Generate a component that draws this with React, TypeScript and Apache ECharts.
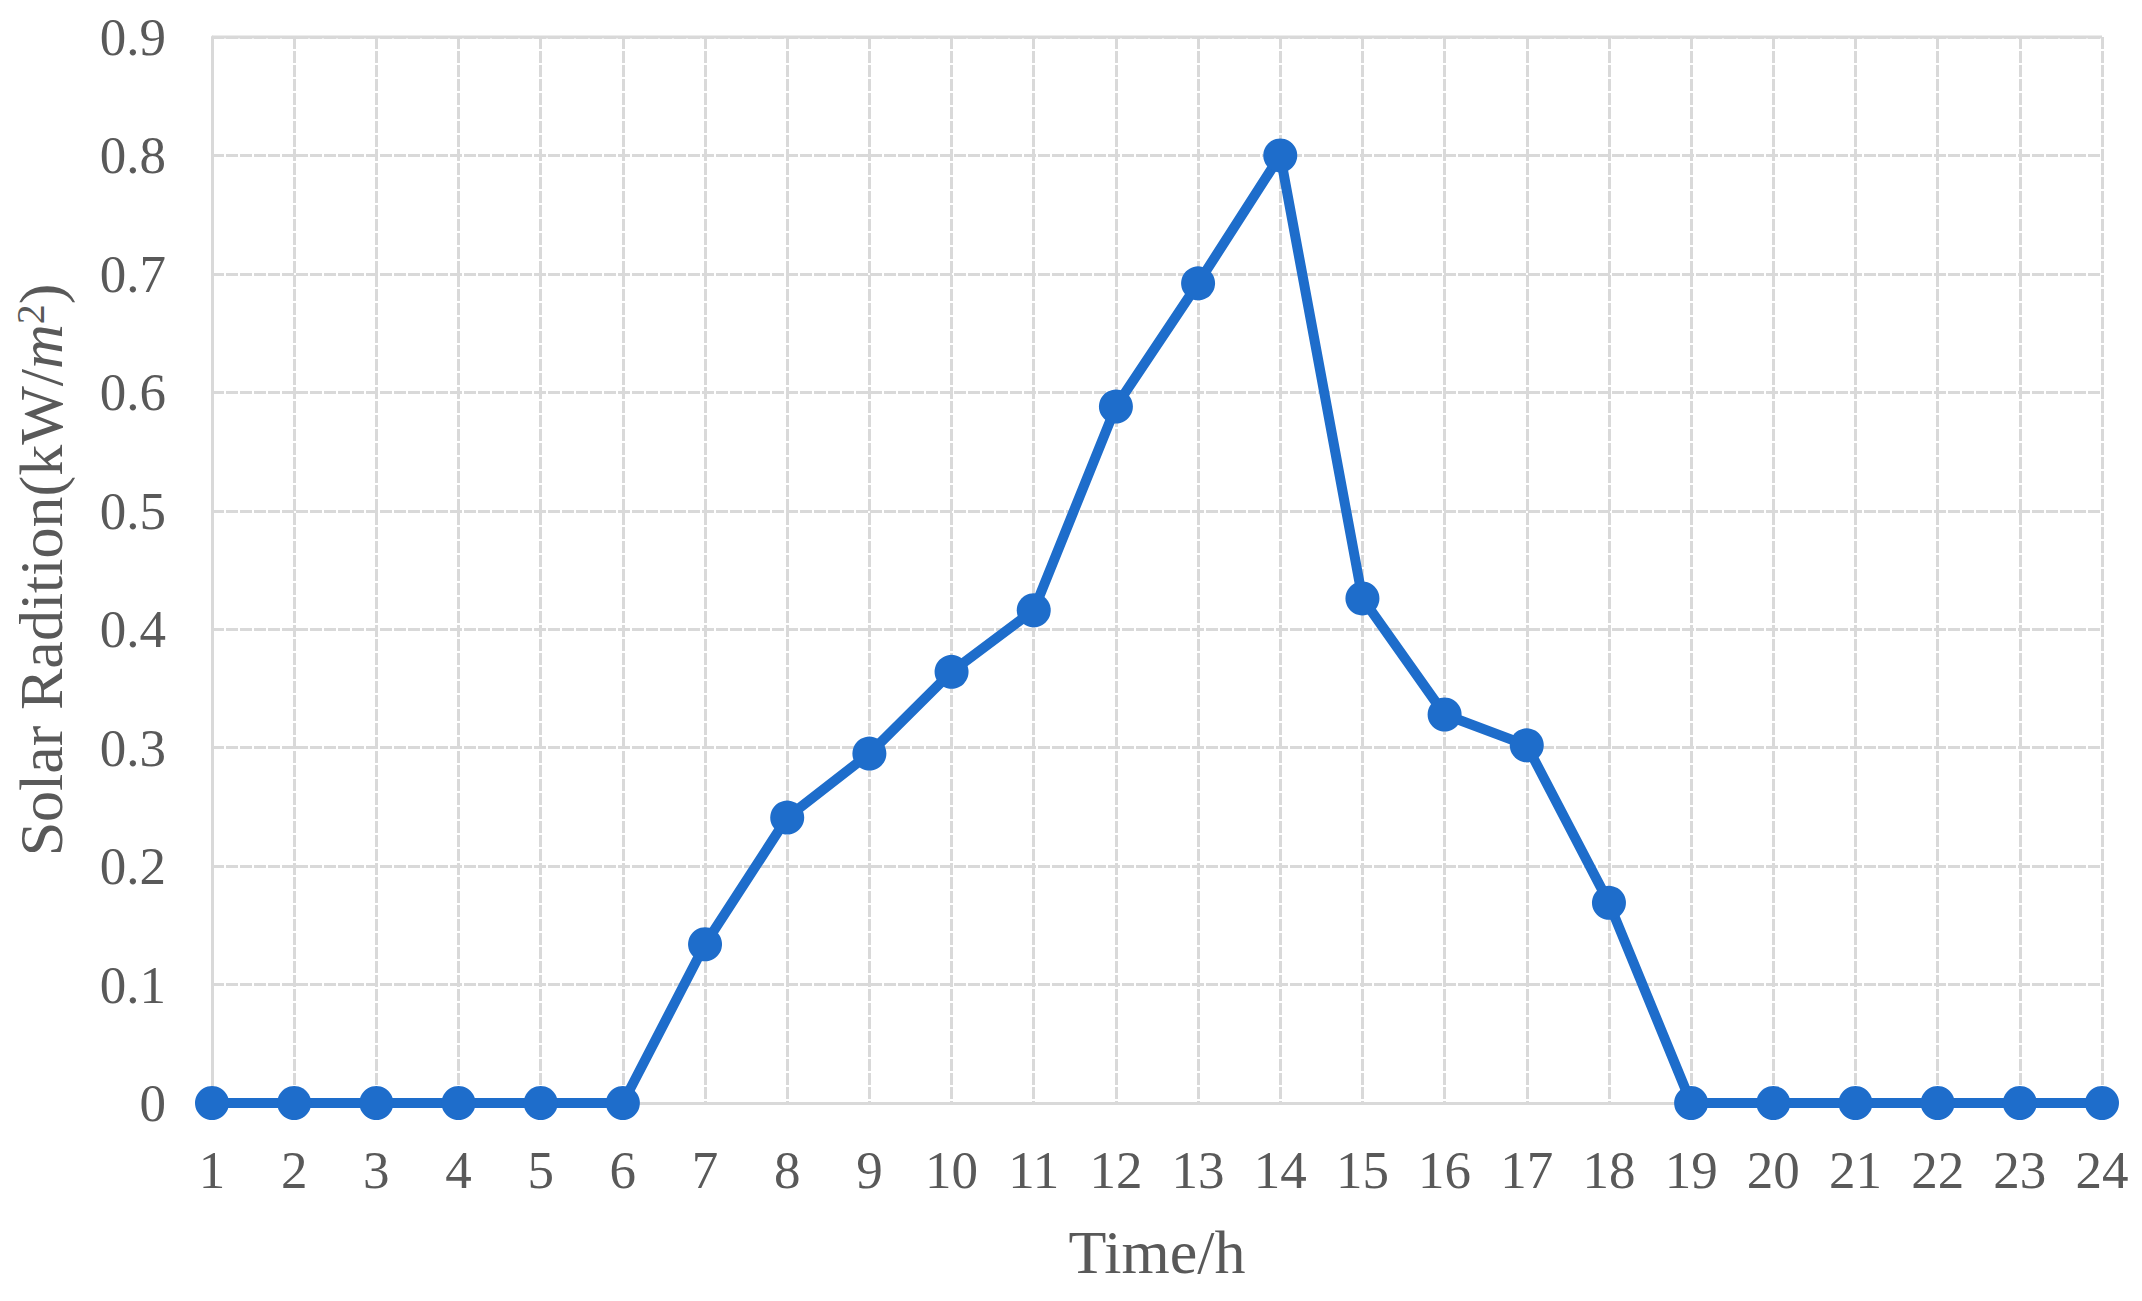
import React, { useEffect, useRef } from "react";
import * as echarts from "echarts";

const hours = ["1","2","3","4","5","6","7","8","9","10","11","12","13","14","15","16","17","18","19","20","21","22","23","24"];
const radiation = [0, 0, 0, 0, 0, 0, 0.134, 0.241, 0.295, 0.364, 0.416, 0.588, 0.692, 0.8, 0.426, 0.328, 0.302, 0.169, 0, 0, 0, 0, 0, 0];
const yTicks = { min: 0, max: 0.9, interval: 0.1 };

const FONT = "'Liberation Serif', 'Times New Roman', serif";
const TEXT = "#595959";
const GRID = "#d9d9d9";
const BLUE = "#1E6DCB";

export default function App() {
  const ref = useRef<HTMLDivElement>(null);
  useEffect(() => {
    document.body.style.margin = "0";
    const chart = echarts.init(ref.current!, null, { renderer: "svg" });
    chart.setOption({
      animation: false,
      backgroundColor: "#ffffff",
      grid: { left: 212, right: 40, top: 37, bottom: 198, containLabel: false },
      xAxis: {
        type: "category",
        data: hours,
        boundaryGap: false,
        name: "Time/h",
        nameLocation: "middle",
        nameGap: 118,
        nameTextStyle: { fontFamily: FONT, fontSize: 62, color: TEXT },
        axisLine: { show: true, lineStyle: { color: GRID, width: 3 } },
        axisTick: { show: false },
        axisLabel: { fontFamily: FONT, fontSize: 53, color: TEXT, margin: 40 },
        splitLine: { show: true, lineStyle: { color: GRID, width: 3, type: [12, 2] } },
      },
      yAxis: {
        type: "value",
        min: yTicks.min,
        max: yTicks.max,
        interval: yTicks.interval,
        name: "Solar Radition(kW/{i|m}{sup|2})",
        nameLocation: "middle",
        nameRotate: 90,
        nameGap: 140,
        nameTextStyle: {
          fontFamily: FONT,
          fontSize: 62,
          color: TEXT,
          rich: {
            i: { fontFamily: FONT, fontSize: 62, fontStyle: "italic", color: TEXT },
            sup: { fontFamily: FONT, fontSize: 40, color: TEXT, verticalAlign: "top", padding: [0, 0, 22, 0] },
          },
        },
        axisLine: { show: true, lineStyle: { color: GRID, width: 3 } },
        axisTick: { show: false },
        axisLabel: {
          fontFamily: FONT,
          fontSize: 53,
          color: TEXT,
          margin: 46,
          formatter: (v: number) => (v === 0 ? "0" : v.toFixed(1)),
        },
        splitLine: { show: true, lineStyle: { color: GRID, width: 3, type: [12, 2] } },
      },
      series: [
        {
          type: "line",
          data: radiation,
          symbol: "circle",
          symbolSize: 34,
          itemStyle: { color: BLUE },
          lineStyle: { color: BLUE, width: 10 },
          z: 5,
        },
      ],
      graphic: [
        {
          type: "line",
          shape: { x1: 212, y1: 37, x2: 2102, y2: 37 },
          style: { stroke: GRID, lineWidth: 3 },
          z: 1,
        },
      ],
    });
    return () => chart.dispose();
  }, []);
  return <div ref={ref} style={{ width: 2142, height: 1301 }} />;
}
